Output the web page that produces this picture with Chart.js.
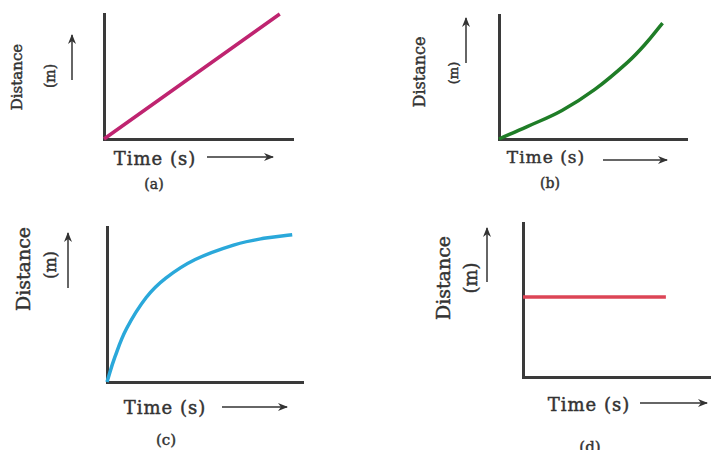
<!DOCTYPE html>
<html>
<head>
<meta charset="utf-8">
<script src="https://cdn.jsdelivr.net/npm/chart.js@4.4.0/dist/chart.umd.min.js"></script>
<style>
  body { margin: 0; width: 711px; height: 450px; overflow: hidden; background: #fff; position: relative; }
  .panel { position: absolute; }
  .txt { position: absolute; font-family: "DejaVu Serif", serif; color: #333; white-space: nowrap;
         transform: translate(-50%, -50%); -webkit-text-stroke: 0.45px #333; }
  .rot { transform: translate(-50%, -50%) rotate(-90deg); }
  .tiempo { letter-spacing: 1px; }
  #flechas { position: absolute; left: 0; top: 0; }
</style>
</head>
<body>
<div class="panel" style="left:98px;top:8px;width:201px;height:137px"><canvas id="graficoA"></canvas></div>
<div class="panel" style="left:493px;top:9px;width:200px;height:136px"><canvas id="graficoB"></canvas></div>
<div class="panel" style="left:101px;top:221px;width:208px;height:167px"><canvas id="graficoC"></canvas></div>
<div class="panel" style="left:517px;top:217px;width:200px;height:166px"><canvas id="graficoD"></canvas></div>

<!-- textos de los ejes -->
<div class="txt rot" style="left:17px;top:77px;font-size:15px">Distance</div>
<div class="txt rot" style="left:50px;top:76px;font-size:14px">(m)</div>
<div class="txt tiempo" style="left:155px;top:158px;font-size:18px">Time (s)</div>
<div class="txt" style="left:154px;top:184px;font-size:14px">(a)</div>

<div class="txt rot" style="left:419px;top:72px;font-size:16px">Distance</div>
<div class="txt rot" style="left:453px;top:73px;font-size:13px">(m)</div>
<div class="txt tiempo" style="left:546px;top:157px;font-size:17px">Time (s)</div>
<div class="txt" style="left:550px;top:183px;font-size:14px">(b)</div>

<div class="txt rot" style="left:23px;top:269px;font-size:19px">Distance</div>
<div class="txt rot" style="left:50px;top:265px;font-size:16px">(m)</div>
<div class="txt tiempo" style="left:165px;top:407px;font-size:18px">Time (s)</div>
<div class="txt" style="left:166px;top:440px;font-size:15px">(c)</div>

<div class="txt rot" style="left:443px;top:278px;font-size:19px">Distance</div>
<div class="txt rot" style="left:470px;top:278px;font-size:18px">(m)</div>
<div class="txt tiempo" style="left:589px;top:404px;font-size:18px">Time (s)</div>
<div class="txt" style="left:590px;top:447px;font-size:15px">(d)</div>

<svg id="flechas" width="711" height="450">
  <defs>
    <marker id="punta" markerWidth="10" markerHeight="8" refX="9" refY="4" orient="auto" markerUnits="userSpaceOnUse">
      <path d="M0,0 L10,4 L0,8 L3,4 z" fill="#333"/>
    </marker>
  </defs>
  <g stroke="#333" stroke-width="1.5" marker-end="url(#punta)">
    <line x1="72" y1="80" x2="72" y2="35"/>
    <line x1="207" y1="157" x2="273" y2="157"/>
    <line x1="466" y1="63" x2="466" y2="18"/>
    <line x1="603" y1="160" x2="667" y2="160"/>
    <line x1="68" y1="288" x2="68" y2="233"/>
    <line x1="222" y1="407" x2="287" y2="407"/>
    <line x1="487" y1="282" x2="487" y2="228"/>
    <line x1="640" y1="403" x2="707" y2="403"/>
  </g>
</svg>

<script>
// Datos (tiempo y distancia en unidades arbitrarias 0-10)
const tiempoA = [0, 9.3];
const distanciaA = [0, 10];

const tiempoB = [0, 1.5, 3.35, 5.1, 6.85, 7.75, 8.7];
const distanciaB = [0, 1.0, 2.3, 4.0, 6.2, 7.6, 9.35];

const tiempoC = [0, 0.4, 1, 2, 3, 4.5, 6.5, 8, 9.45];
const distanciaC = [0, 1.6, 3.45, 5.45, 6.7, 7.9, 8.85, 9.27, 9.5];

const tiempoD = [0, 7.6];
const distanciaD = [5.2, 5.2];

const colorA = "#bf2470";
const colorB = "#1f7d27";
const colorC = "#2aa8da";
const colorD = "#dc4556";

// Eje sin marcas ni etiquetas, solo la linea
function ejeSimple() {
  return {
    type: "linear",
    min: 0,
    max: 10,
    ticks: { display: false },
    grid: { display: false, drawTicks: false },
    border: { display: true, color: "#3a3a3a", width: 3 },
  };
}

function graficoDistancia(id, tiempos, distancias, color) {
  const ctx = document.getElementById(id);
  const puntos = tiempos.map((t, i) => ({ x: t, y: distancias[i] }));
  new Chart(ctx, {
    type: "line",
    data: {
      datasets: [
        {
          data: puntos,
          borderColor: color,
          borderWidth: 3.5,
          pointRadius: 0,
          fill: false,
          tension: 0.4,
          clip: false,
        },
      ],
    },
    options: {
      responsive: true,
      maintainAspectRatio: false,
      animation: false,
      layout: { padding: 6 },
      plugins: { legend: { display: false }, tooltip: { enabled: false } },
      scales: { x: ejeSimple(), y: ejeSimple() },
    },
  });
}

graficoDistancia("graficoA", tiempoA, distanciaA, colorA);
graficoDistancia("graficoB", tiempoB, distanciaB, colorB);
graficoDistancia("graficoC", tiempoC, distanciaC, colorC);
graficoDistancia("graficoD", tiempoD, distanciaD, colorD);
</script>
</body>
</html>
